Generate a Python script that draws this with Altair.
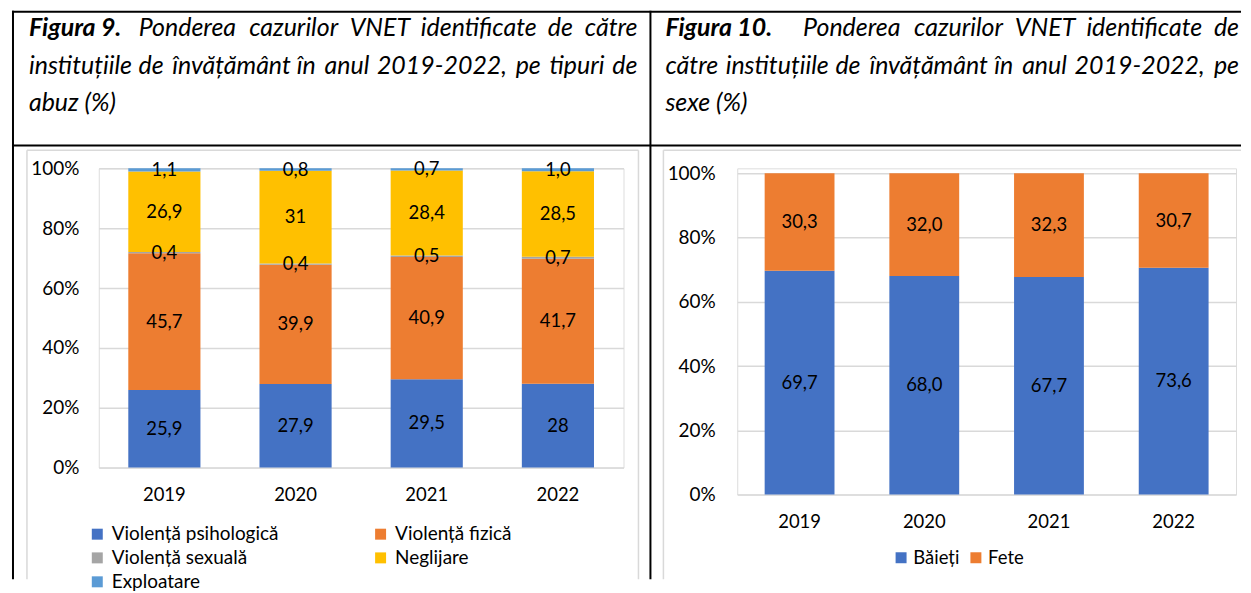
import altair as alt
import pandas as pd

FONT = "Lato"

# ---------------- data ----------------
years = ["2019", "2020", "2021", "2022"]

abuse_types = ["Violență psihologică", "Violență fizică", "Violență sexuală", "Neglijare", "Exploatare"]
abuse_colors = ["#4472C4", "#ED7D31", "#A5A5A5", "#FFC000", "#5B9BD5"]
# legend reading order (row by row, two columns) as in the original
legend_order = ["Violență psihologică", "Violență sexuală", "Exploatare", "Violență fizică", "Neglijare"]
psihologica = [25.9, 27.9, 29.5, 28.0]
fizica = [45.7, 39.9, 40.9, 41.7]
sexuala = [0.4, 0.4, 0.5, 0.7]
neglijare = [26.9, 31.0, 28.4, 28.5]
exploatare = [1.1, 0.8, 0.7, 1.0]
psihologica_lbl = ["25,9", "27,9", "29,5", "28"]
fizica_lbl = ["45,7", "39,9", "40,9", "41,7"]
sexuala_lbl = ["0,4", "0,4", "0,5", "0,7"]
neglijare_lbl = ["26,9", "31", "28,4", "28,5"]
exploatare_lbl = ["1,1", "0,8", "0,7", "1,0"]

sexes = ["Băieți", "Fete"]
sex_colors = ["#4472C4", "#ED7D31"]
baieti = [69.7, 68.0, 67.7, 73.6]
fete = [30.3, 32.0, 32.3, 30.7]
baieti_lbl = ["69,7", "68,0", "67,7", "73,6"]
fete_lbl = ["30,3", "32,0", "32,3", "30,7"]

title9_bold = "Figura 9."
title9_lines = ["Ponderea cazurilor VNET identificate de către",
                "instituțiile de învățământ în anul 2019-2022, pe tipuri de",
                "abuz (%)"]
title10_bold = "Figura 10."
title10_lines = ["Ponderea cazurilor VNET identificate de",
                 "către instituțiile de învățământ în anul 2019-2022, pe",
                 "sexe (%)"]

pct_ticks = [0, 0.2, 0.4, 0.6, 0.8, 1.0]

# ---------------- tables ----------------
color_of = dict(zip(abuse_types, abuse_colors))
rows = []
for i, (name, vals, lbls) in enumerate(zip(
        abuse_types,
        [psihologica, fizica, sexuala, neglijare, exploatare],
        [psihologica_lbl, fizica_lbl, sexuala_lbl, neglijare_lbl, exploatare_lbl])):
    for y, v, l in zip(years, vals, lbls):
        rows.append({"year": y, "type": name, "idx": i, "value": v, "label": l})
df_abuse = pd.DataFrame(rows)

rows = []
for i, (name, vals, lbls) in enumerate(zip(sexes, [baieti, fete], [baieti_lbl, fete_lbl])):
    for y, v, l in zip(years, vals, lbls):
        rows.append({"year": y, "sex": name, "idx": i, "value": v, "label": l})
df_sex = pd.DataFrame(rows)

one = pd.DataFrame({"k": [0]})

GRID = "#D9D9D9"
FRAME = "#D9D9D9"
HEAD_SIZE = 25

# rough relative glyph advances (em) of an italic humanist sans, for justifying the captions
_W = {"a": .51, "b": .56, "c": .46, "d": .56, "e": .52, "f": .32, "g": .5, "h": .56, "i": .24,
      "j": .24, "k": .5, "l": .24, "m": .84, "n": .56, "o": .56, "p": .56, "r": .36, "s": .42,
      "t": .35, "u": .56, "v": .5, "z": .45, "ă": .51, "â": .51, "î": .26, "ț": .35, "ș": .42,
      "V": .64, "N": .74, "E": .55, "T": .56, "P": .58, "-": .36, ",": .24, ".": .22,
      "(": .3, ")": .3, "%": .78}
K = 0.94


def word_w(w):
    return sum(_W.get(ch, .62) for ch in w) * HEAD_SIZE * K


def hrule(x1, x2, y, color="black", w=2):
    return alt.Chart(one).mark_rule(color=color, strokeWidth=w).encode(
        x=alt.value(x1), x2=alt.value(x2), y=alt.value(y))


def vrule(x, y1, y2, color="black", w=2):
    return alt.Chart(one).mark_rule(color=color, strokeWidth=w).encode(
        x=alt.value(x), y=alt.value(y1), y2=alt.value(y2))


def label(x, y, text, bold=False, size=HEAD_SIZE, align="left"):
    return alt.Chart(one).mark_text(
        align=align, baseline="alphabetic", font=FONT, fontSize=size,
        fontStyle="italic", fontWeight="bold" if bold else "normal", color="black"
    ).encode(x=alt.value(x), y=alt.value(y), text=alt.value(text))


def justified(x0, x1, y, text):
    words = text.split(" ")
    widths = [word_w(w) for w in words]
    gap = (x1 - x0 - sum(widths)) / (len(words) - 1)
    out = []
    pos = x0
    for i, (w, ww) in enumerate(zip(words, widths)):
        if i == len(words) - 1:
            out.append(label(x1, y, w, align="right"))
        else:
            out.append(label(round(pos, 1), y, w))
        pos += ww + gap
    return out


def bar_panel(df, cat_field, domain, colors, ymax, pad_inner, y_label_pad, legend):
    xs = alt.Scale(paddingInner=pad_inner, paddingOuter=pad_inner / 2)
    ys = alt.Scale(domain=[0, ymax], nice=False, zero=True)
    xaxis = alt.Axis(title=None, labelAngle=0, ticks=False, domain=False, grid=False,
                     labelPadding=18, labelFontSize=18.5, labelFont=FONT, labelColor="black")
    yaxis = alt.Axis(title=None, values=pct_ticks, format="%", ticks=False, domain=False,
                     grid=True, gridColor=GRID, gridWidth=1.5, labelPadding=y_label_pad,
                     labelFontSize=19, labelFont=FONT, labelColor="black")
    base = alt.Chart(df).transform_stack(
        stack="value", groupby=["year"], sort=[alt.SortField("idx", order="ascending")],
        offset="normalize", as_=["v0", "v1"]
    ).transform_calculate(mid="(datum.v0 + datum.v1) / 2")
    bars = base.mark_bar().encode(
        x=alt.X("year:N", scale=xs, axis=xaxis, sort=years),
        y=alt.Y("v0:Q", scale=ys, axis=yaxis),
        y2="v1:Q",
        color=alt.Color(f"{cat_field}:N", scale=alt.Scale(domain=domain, range=colors),
                        legend=legend),
    )
    texts = base.mark_text(font=FONT, fontSize=18.5, color="black", baseline="middle").encode(
        x=alt.X("year:N", scale=xs, axis=xaxis, sort=years),
        y=alt.Y("mid:Q", scale=ys, axis=yaxis),
        text="label:N",
    )
    return bars, texts


# ---------------- left panel (origin = plot area top-left) ----------------
L_W, L_H = 526, 300
legend_left = alt.Legend(title=None, orient="none", legendX=-11, legendY=357, columns=2,
                         symbolType="square", symbolSize=121, symbolStrokeWidth=0,
                         labelFontSize=19, labelFont=FONT, labelColor="black",
                         rowPadding=4, columnPadding=92, labelOffset=5, labelLimit=400)
bars_l, texts_l = bar_panel(df_abuse, "type", legend_order,
                            [color_of[t] for t in legend_order], 1.0, 0.45, 20, legend_left)

deco_l = [
    hrule(-87, 553, -157),            # table top
    hrule(-87, 553, -23),             # header separator
    vrule(-86, -158, 412),            # table left
    vrule(553, -158, 412),            # middle
    hrule(-72, 541, -18, FRAME, 1.5),  # chart frame
    vrule(-72, -18, 412, FRAME, 1.5),
    vrule(541, -18, 412, FRAME, 1.5),
    label(-70, -133, title9_bold, bold=True),
    *justified(40, 540, -133, title9_lines[0]),
    *justified(-70, 540, -95, title9_lines[1]),
    label(-70, -57, title9_lines[2]),
]
left = alt.layer(*deco_l, bars_l, texts_l).properties(width=L_W, height=L_H)

# ---------------- right panel ----------------
R_W, R_H = 500, 327
legend_right = alt.Legend(title=None, orient="none", legendX=155, legendY=381, columns=2,
                          symbolType="square", symbolSize=121, symbolStrokeWidth=0,
                          labelFontSize=18.5, labelFont=FONT, labelColor="black",
                          columnPadding=7, labelOffset=3, labelLimit=400)
bars_r, texts_r = bar_panel(df_sex, "sex", sexes, sex_colors, 327 / 322, 0.44, 22, legend_right)

deco_r = [
    hrule(-87, 505, -157),
    hrule(-87, 505, -23),
    hrule(-74, 505, -18, FRAME, 1.5),
    vrule(-74, -18, 412, FRAME, 1.5),
    label(-72, -133, title10_bold, bold=True),
    *justified(66, 503, -133, title10_lines[0]),
    *justified(-72, 503, -95, title10_lines[1]),
    label(-72, -57, title10_lines[2]),
]
right = alt.layer(*deco_r, bars_r, texts_r).properties(width=R_W, height=R_H)

chart = alt.hconcat(left, right, spacing=114, bounds="flush").resolve_scale(
    x="independent", y="independent", color="independent"
).resolve_legend(color="independent").properties(
    padding={"left": 2, "top": 0, "right": 0, "bottom": 0}
).configure_view(stroke="transparent").configure(font=FONT)

chart.save("out.html", embed_options={"renderer": "svg", "actions": False})
